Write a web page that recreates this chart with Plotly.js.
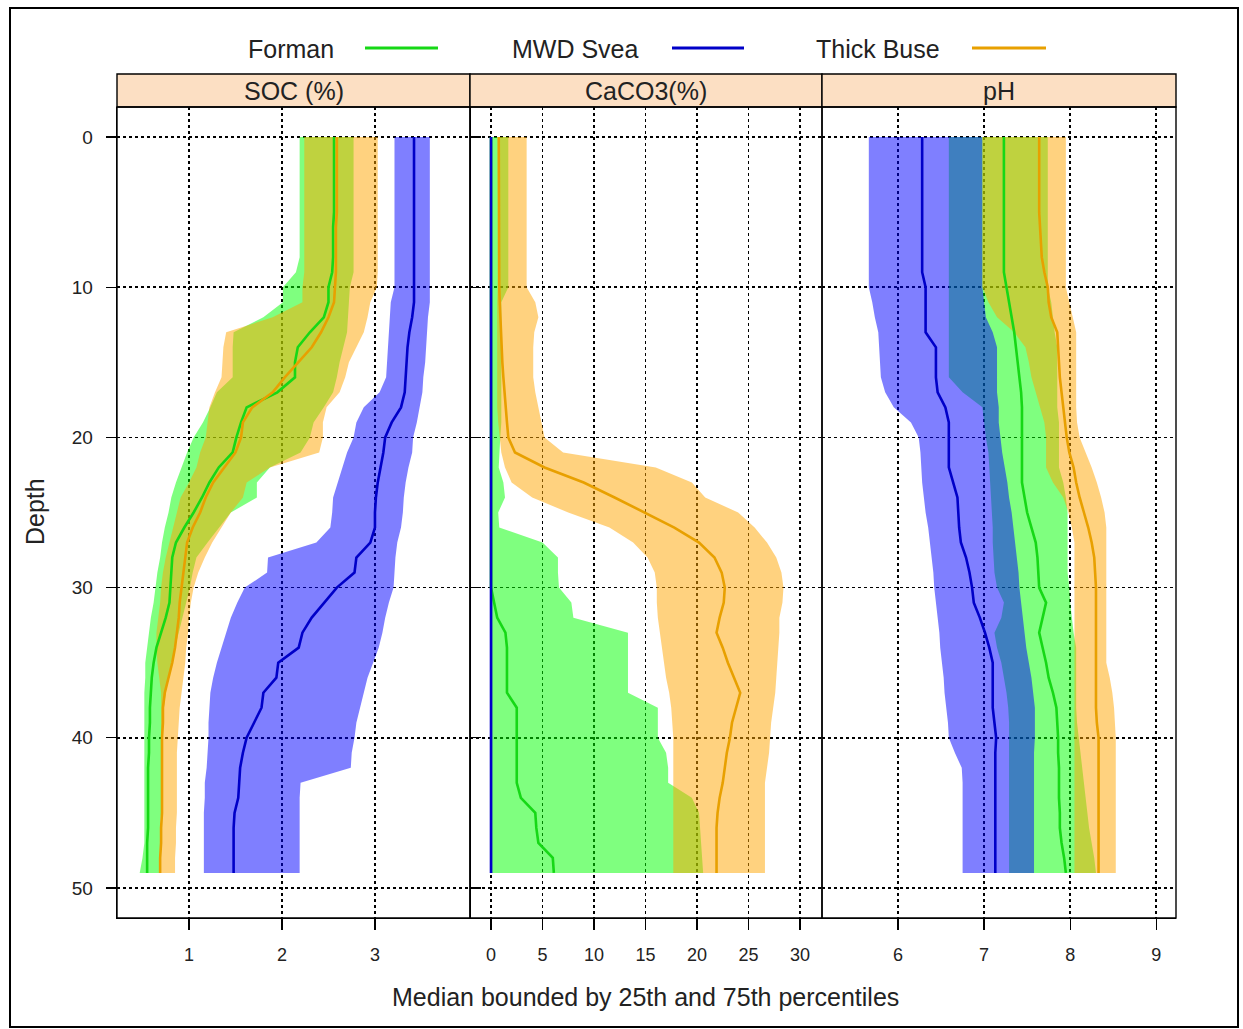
<!DOCTYPE html>
<html>
<head>
<meta charset="utf-8">
<script src="https://cdn.plot.ly/plotly-3.0.1.min.js"></script>
<style>html,body{margin:0;padding:0;background:#fff;}#chart{width:1243px;height:1029px;}</style>
</head>
<body>
<div id="chart"></div>
<script>
// ---------- DATA ----------
const depth = [0,1,2,3,4,5,6,7,8,9,10,11,12,13,14,15,16,17,18,19,20,21,22,23,24,25,26,27,28,29,30,31,32,33,34,35,36,37,38,39,40,41,42,43,44,45,46,47,48,49];
const seriesNames = ["Forman", "MWD Svea", "Thick Buse"];
const panelNames = ["SOC (%)", "CaCO3(%)", "pH"];
const socTicks = [1, 2, 3];
const cacoTicks = [0, 5, 10, 15, 20, 25, 30];
const phTicks = [6, 7, 8, 9];
const depthTicks = [0, 10, 20, 30, 40, 50];

// SOC (%)
const socFormanLow  = [2.19,2.19,2.19,2.19,2.19,2.19,2.19,2.19,2.19,2.15, 2.01,2.01,1.80,1.48,1.47,1.47,1.47,1.30,1.23,1.15, 1.05,0.98,0.92,0.86,0.81,0.78,0.74,0.71,0.69,0.66, 0.64,0.62,0.59,0.57,0.55,0.53,0.53,0.52,0.52,0.52, 0.52,0.52,0.52,0.52,0.52,0.52,0.52,0.52,0.50,0.47];
const socFormanMed  = [2.56,2.56,2.56,2.56,2.56,2.56,2.55,2.55,2.55,2.54, 2.50,2.50,2.45,2.30,2.17,2.14,2.14,1.95,1.62,1.56, 1.51,1.47,1.32,1.22,1.14,1.05,0.95,0.86,0.82,0.81, 0.80,0.79,0.75,0.70,0.65,0.62,0.60,0.59,0.58,0.58, 0.57,0.57,0.56,0.56,0.56,0.56,0.56,0.55,0.55,0.55];
const socFormanHigh = [2.77,2.77,2.77,2.77,2.77,2.77,2.77,2.77,2.77,2.77, 2.73,2.72,2.71,2.70,2.66,2.62,2.59,2.55,2.45,2.34, 2.30,2.20,1.87,1.73,1.73,1.45,1.33,1.20,1.08,1.04, 1.01,0.97,0.93,0.89,0.85,0.81,0.78,0.75,0.73,0.72, 0.71,0.70,0.70,0.70,0.70,0.70,0.69,0.69,0.69,0.69];

const socSveaLow  = [3.21,3.21,3.21,3.21,3.21,3.21,3.21,3.21,3.21,3.21, 3.21,3.17,3.16,3.15,3.14,3.13,3.12,3.05,2.88,2.80, 2.77,2.70,2.65,2.60,2.55,2.54,2.52,2.37,1.85,1.84, 1.60,1.52,1.45,1.40,1.35,1.30,1.26,1.23,1.22,1.21, 1.21,1.20,1.19,1.17,1.17,1.16,1.16,1.16,1.16,1.16];
const socSveaMed  = [3.42,3.42,3.42,3.42,3.42,3.42,3.42,3.42,3.42,3.42, 3.42,3.42,3.40,3.37,3.35,3.34,3.33,3.32,3.28,3.18, 3.11,3.09,3.06,3.03,3.01,3.00,3.00,2.95,2.80,2.78, 2.59,2.45,2.32,2.22,2.18,1.96,1.94,1.80,1.78,1.70, 1.62,1.58,1.55,1.54,1.53,1.49,1.48,1.48,1.48,1.48];
const socSveaHigh = [3.59,3.59,3.59,3.59,3.59,3.59,3.59,3.59,3.59,3.59, 3.59,3.59,3.57,3.56,3.55,3.54,3.52,3.51,3.48,3.45, 3.41,3.40,3.36,3.33,3.31,3.30,3.28,3.24,3.22,3.21, 3.20,3.15,3.11,3.08,3.04,2.98,2.92,2.88,2.84,2.80, 2.78,2.75,2.74,2.20,2.19,2.19,2.19,2.19,2.19,2.19];

const socBuseLow  = [2.24,2.24,2.24,2.24,2.24,2.24,2.24,2.24,2.24,2.24, 2.22,2.22,1.90,1.40,1.37,1.36,1.35,1.28,1.22,1.20, 1.18,1.12,1.08,1.00,0.91,0.87,0.83,0.79,0.75,0.72, 0.70,0.69,0.67,0.65,0.65,0.66,0.68,0.70,0.70,0.70, 0.70,0.70,0.70,0.70,0.70,0.70,0.70,0.70,0.70,0.70];
const socBuseMed  = [2.59,2.59,2.59,2.59,2.59,2.59,2.58,2.58,2.58,2.58, 2.57,2.56,2.50,2.42,2.32,2.17,2.03,1.90,1.68,1.58, 1.56,1.50,1.38,1.26,1.18,1.12,1.04,0.98,0.96,0.94, 0.92,0.90,0.89,0.87,0.85,0.82,0.78,0.74,0.72,0.72, 0.71,0.71,0.71,0.71,0.71,0.71,0.70,0.70,0.69,0.69];
const socBuseHigh = [3.03,3.03,3.03,3.03,3.03,3.03,3.03,3.03,3.03,3.03, 3.02,2.95,2.92,2.88,2.80,2.72,2.68,2.62,2.48,2.44, 2.44,2.40,1.87,1.62,1.58,1.45,1.35,1.25,1.17,1.10, 1.05,1.02,1.00,0.99,0.97,0.96,0.94,0.92,0.90,0.89, 0.88,0.87,0.87,0.87,0.87,0.87,0.86,0.86,0.85,0.85];

// CaCO3 (%)
const cacoFormanLow  = [0,0,0,0,0,0,0,0,0,0, 0,0,0,0,0,0,0,0,0,0, 0,0,0,0,0,0,0,0,0,0, 0,0,0,0,0,0,0,0,0,0, 0,0,0,0,0,0,0,0,0,0];
const cacoFormanMed  = [0,0,0,0,0,0,0,0,0,0, 0,0,0,0,0,0,0,0,0,0, 0,0,0,0,0,0,0,0,0,0, 0,0.3,0.6,1.4,1.55,1.55,1.55,1.55,2.5,2.5, 2.5,2.5,2.5,2.5,2.9,4.3,4.4,4.6,6.0,6.1];
const cacoFormanHigh = [1.68,1.68,1.68,1.68,1.68,1.68,1.68,1.68,1.68,1.68, 1.68,1.0,1.0,1.0,1.0,1.0,1.0,1.0,1.0,1.0, 0.9,0.8,0.75,1.2,1.36,0.7,0.8,5.0,6.5,6.5, 6.6,7.8,8.0,13.3,13.3,13.3,13.3,13.3,16.2,16.2, 16.2,17.0,17.2,17.2,19.5,20.2,20.3,20.4,20.5,20.6];

const cacoSveaLow  = [0,0,0,0,0,0,0,0,0,0, 0,0,0,0,0,0,0,0,0,0, 0,0,0,0,0,0,0,0,0,0, 0,0,0,0,0,0,0,0,0,0, 0,0,0,0,0,0,0,0,0,0];
const cacoSveaMed  = [0,0,0,0,0,0,0,0,0,0, 0,0,0,0,0,0,0,0,0,0, 0,0,0,0,0,0,0,0,0,0, 0,0,0,0,0,0,0,0,0,0, 0,0,0,0,0,0,0,0,0,0];
const cacoSveaHigh = [0.12,0.12,0.12,0.12,0.12,0.12,0.12,0.12,0.12,0.12, 0.12,0.12,0.12,0.12,0.12,0.12,0.12,0.12,0.12,0.12, 0.12,0.12,0.12,0.12,0.12,0.12,0.12,0.12,0.12,0.12, 0.12,0.12,0.12,0.12,0.12,0.12,0.12,0.12,0.12,0.12, 0.12,0.12,0.12,0.12,0.12,0.12,0.12,0.12,0.12,0.12];

const cacoBuseLow  = [0.71,0.71,0.71,0.71,0.71,0.71,0.71,0.71,0.71,0.71, 0.65,0.6,0.6,0.6,0.6,0.6,0.6,0.6,0.6,0.7, 0.85,1.0,1.36,2.0,4.0,7.5,11.5,13.8,15.2,15.9, 16.1,16.1,16.2,16.4,16.6,16.8,17.0,17.3,17.5,17.6, 17.7,17.7,17.7,17.7,17.7,17.7,17.7,17.7,17.7,17.7];
const cacoBuseMed  = [0.75,0.75,0.75,0.75,0.75,0.75,0.75,0.75,0.75,0.75, 0.8,0.85,0.9,1.0,1.05,1.1,1.2,1.3,1.45,1.55, 1.68,2.33,5.2,9.0,12.0,14.95,17.8,20.2,21.7,22.4, 22.7,22.6,22.2,21.9,22.5,23.0,23.6,24.2,23.8,23.4, 23.2,22.9,22.7,22.5,22.2,22.0,21.9,21.9,21.9,21.9];
const cacoBuseHigh = [3.46,3.46,3.46,3.46,3.46,3.46,3.46,3.46,3.46,3.46, 3.46,4.3,4.6,4.2,4.1,4.1,4.1,4.3,4.6,4.9, 5.2,7.0,16.0,19.5,20.8,24.0,25.6,26.8,27.7,28.2, 28.4,28.3,28.0,28.0,27.9,27.8,27.7,27.6,27.4,27.2, 27.1,27.0,26.8,26.6,26.6,26.6,26.6,26.6,26.6,26.6];

// pH
const phFormanLow  = [6.59,6.59,6.59,6.59,6.59,6.59,6.59,6.59,6.59,6.59, 6.59,6.59,6.59,6.59,6.59,6.59,6.59,6.75,6.98,7.00, 7.02,7.05,7.06,7.07,7.08,7.09,7.10,7.10,7.11,7.12, 7.15,7.23,7.20,7.12,7.15,7.20,7.23,7.26,7.28,7.29, 7.29,7.29,7.29,7.29,7.29,7.29,7.29,7.29,7.29,7.29];
const phFormanMed  = [7.23,7.23,7.23,7.23,7.23,7.23,7.23,7.23,7.23,7.23, 7.26,7.29,7.32,7.35,7.37,7.39,7.41,7.43,7.44,7.44, 7.44,7.44,7.44,7.44,7.47,7.50,7.55,7.60,7.62,7.63, 7.64,7.72,7.68,7.64,7.68,7.72,7.75,7.80,7.84,7.85, 7.86,7.86,7.87,7.87,7.87,7.88,7.88,7.90,7.93,7.95];
const phFormanHigh = [7.74,7.74,7.74,7.74,7.74,7.74,7.74,7.74,7.74,7.74, 7.74,7.78,7.80,7.82,7.85,7.85,7.85,7.85,7.85,7.87, 7.87,7.87,7.87,7.92,7.95,7.97,7.97,7.97,7.97,7.97, 7.99,8.00,8.02,8.04,8.07,8.07,8.07,8.07,8.07,8.08, 8.10,8.12,8.14,8.16,8.18,8.20,8.22,8.25,8.28,8.30];

const phSveaLow  = [5.66,5.66,5.66,5.66,5.66,5.66,5.66,5.66,5.66,5.66, 5.66,5.70,5.73,5.77,5.78,5.79,5.80,5.85,5.95,6.15, 6.24,6.26,6.27,6.28,6.30,6.32,6.35,6.37,6.39,6.41, 6.42,6.44,6.46,6.48,6.49,6.51,6.53,6.54,6.56,6.58, 6.59,6.66,6.74,6.75,6.75,6.75,6.75,6.75,6.75,6.75];
const phSveaMed  = [6.28,6.28,6.28,6.28,6.28,6.28,6.28,6.28,6.28,6.28, 6.32,6.32,6.32,6.32,6.44,6.44,6.44,6.46,6.55,6.59, 6.59,6.59,6.59,6.64,6.69,6.70,6.71,6.73,6.79,6.83, 6.86,6.88,6.95,7.01,7.06,7.10,7.10,7.10,7.10,7.12, 7.14,7.13,7.13,7.13,7.13,7.13,7.13,7.13,7.13,7.13];
const phSveaHigh = [6.98,6.98,6.98,6.98,6.98,6.98,6.98,6.98,6.98,6.98, 6.98,7.00,7.02,7.10,7.15,7.15,7.15,7.15,7.17,7.17, 7.19,7.21,7.24,7.27,7.29,7.32,7.34,7.36,7.38,7.40, 7.41,7.43,7.45,7.47,7.49,7.52,7.55,7.57,7.59,7.59, 7.59,7.58,7.58,7.58,7.58,7.58,7.58,7.58,7.58,7.58];

const phBuseLow  = [6.98,6.98,6.98,6.98,6.98,6.98,6.98,6.98,6.98,6.98, 6.98,7.05,7.15,7.35,7.48,7.52,7.55,7.60,7.65,7.70, 7.72,7.72,7.72,7.80,7.92,7.98,8.02,8.05,8.05,8.05, 8.05,8.05,8.05,8.05,8.05,8.05,8.05,8.05,8.05,8.05, 8.05,8.05,8.05,8.05,8.05,8.05,8.05,8.05,8.05,8.05];
const phBuseMed  = [7.64,7.64,7.64,7.64,7.64,7.64,7.65,7.66,7.67,7.70, 7.74,7.75,7.78,7.85,7.86,7.87,7.88,7.90,7.92,7.94, 7.96,7.99,8.04,8.07,8.11,8.16,8.21,8.25,8.28,8.29, 8.30,8.30,8.30,8.30,8.30,8.30,8.30,8.30,8.30,8.31, 8.33,8.33,8.33,8.33,8.33,8.33,8.33,8.33,8.33,8.33];
const phBuseHigh = [7.95,7.95,7.95,7.95,7.95,7.95,7.95,7.95,7.95,7.95, 7.95,7.99,8.03,8.07,8.07,8.07,8.07,8.07,8.07,8.08, 8.11,8.18,8.25,8.31,8.36,8.40,8.42,8.42,8.42,8.42, 8.42,8.42,8.42,8.42,8.42,8.42,8.46,8.49,8.51,8.52, 8.53,8.53,8.53,8.53,8.53,8.53,8.53,8.53,8.53,8.53];

// ---------- STYLE ----------
const lineColors = ["#16d816", "#0000c8", "#e8a000"];
const bandColors = ["rgba(0,255,0,0.5)", "rgba(0,0,255,0.5)", "rgba(255,165,0,0.5)"];
const FONT = "Liberation Sans, Arial, sans-serif";
const TXT = 25;

const panels = [
  {axis: "x",  series: [[socFormanLow, socFormanMed, socFormanHigh], [socSveaLow, socSveaMed, socSveaHigh], [socBuseLow, socBuseMed, socBuseHigh]]},
  {axis: "x2", series: [[cacoFormanLow, cacoFormanMed, cacoFormanHigh], [cacoSveaLow, cacoSveaMed, cacoSveaHigh], [cacoBuseLow, cacoBuseMed, cacoBuseHigh]]},
  {axis: "x3", series: [[phFormanLow, phFormanMed, phFormanHigh], [phSveaLow, phSveaMed, phSveaHigh], [phBuseLow, phBuseMed, phBuseHigh]]}
];

const traces = [];
const revDepth = depth.slice().reverse();
panels.forEach(p => {
  p.series.forEach((s, i) => {
    traces.push({
      type: "scatter", mode: "lines", xaxis: p.axis, yaxis: "y",
      x: s[0].concat(s[2].slice().reverse()), y: depth.concat(revDepth),
      fill: "toself", fillcolor: bandColors[i], line: {width: 0, color: bandColors[i]},
      hoverinfo: "skip", showlegend: false, name: seriesNames[i]
    });
  });
});
panels.forEach(p => {
  p.series.forEach((s, i) => {
    traces.push({
      type: "scatter", mode: "lines", xaxis: p.axis, yaxis: "y",
      x: s[1], y: depth, line: {width: 2.6, color: lineColors[i]},
      showlegend: false, name: seriesNames[i]
    });
  });
});

// ---------- LAYOUT ----------
const L = 117, R = 1176, T = 74, B = 918, W = 1243, H = 1029;
const px = v => (v - L) / (R - L);
const py = v => (B - v) / (B - T);
const stripBottom = py(107);
const d1 = px(470), d2 = px(822);

const xBase = {
  showgrid: true, gridcolor: "#000", griddash: "dot", gridwidth: 1.6,
  zeroline: false, showline: true, linecolor: "#000", linewidth: 1.3,
  ticks: "outside", ticklen: 11, tickwidth: 1.3, tickcolor: "#000",
  ticklabelstandoff: 9,
  tickfont: {family: FONT, size: 18, color: "#222"}, anchor: "y", fixedrange: true
};

const layout = {
  width: W, height: H,
  margin: {l: L, r: W - R, t: T, b: H - B, pad: 0},
  paper_bgcolor: "#fff", plot_bgcolor: "#fff",
  showlegend: false,
  xaxis:  Object.assign({}, xBase, {domain: [0, d1],  range: [0.226, 4.022], tickvals: socTicks}),
  xaxis2: Object.assign({}, xBase, {domain: [d1, d2], range: [-2.04, 32.14], tickvals: cacoTicks}),
  xaxis3: Object.assign({}, xBase, {domain: [d2, 1],  range: [5.116, 9.23], tickvals: phTicks}),
  yaxis: {
    domain: [0, stripBottom], range: [52, -2], tickvals: depthTicks,
    showgrid: true, gridcolor: "#000", griddash: "dot", gridwidth: 1.6,
    zeroline: false, showline: true, linecolor: "#000", linewidth: 1.3, mirror: "ticks",
    ticks: "outside", ticklen: 10, tickwidth: 1.3, tickcolor: "#000",
    ticklabelstandoff: 9,
    tickfont: {family: FONT, size: 19, color: "#222"}, fixedrange: true
  },
  shapes: [],
  annotations: []
};

// panel boxes and strips
const edges = [[0, d1], [d1, d2], [d2, 1]];
edges.forEach((e, k) => {
  layout.shapes.push({type: "rect", xref: "paper", yref: "paper", x0: e[0], x1: e[1], y0: 0, y1: stripBottom,
    line: {color: "#000", width: 1.4}, fillcolor: "rgba(0,0,0,0)", layer: "above"});
  layout.shapes.push({type: "rect", xref: "paper", yref: "paper", x0: e[0], x1: e[1], y0: stripBottom, y1: 1,
    line: {color: "#000", width: 1.4}, fillcolor: "#fcdfc3", layer: "below"});
  layout.annotations.push({xref: "paper", yref: "paper", x: (e[0] + e[1]) / 2, y: (stripBottom + 1) / 2,
    text: panelNames[k], showarrow: false, xanchor: "center", yanchor: "middle",
    font: {family: FONT, size: TXT, color: "#222"}});
});

// outer frame
layout.shapes.push({type: "rect", xref: "paper", yref: "paper", x0: px(10), x1: px(1238), y0: py(1027), y1: py(8),
  line: {color: "#000", width: 2}, fillcolor: "rgba(0,0,0,0)", layer: "above"});

// key (text followed by line sample)
const keyText = [291, 575, 878];
const keyLine = [[365, 438], [672, 744], [972, 1046]];
seriesNames.forEach((n, i) => {
  layout.annotations.push({xref: "paper", yref: "paper", x: px(keyText[i]), y: py(49), text: n, showarrow: false,
    xanchor: "center", yanchor: "middle", font: {family: FONT, size: TXT, color: "#222"}});
  layout.shapes.push({type: "line", xref: "paper", yref: "paper", x0: px(keyLine[i][0]), x1: px(keyLine[i][1]),
    y0: py(48), y1: py(48), line: {color: lineColors[i], width: 3}});
});

// axis titles
layout.annotations.push({xref: "paper", yref: "paper", x: px(645), y: py(997), text: "Median bounded by 25th and 75th percentiles",
  showarrow: false, xanchor: "center", yanchor: "middle", font: {family: FONT, size: TXT, color: "#222"}});
layout.annotations.push({xref: "paper", yref: "paper", x: px(35), y: py(512), text: "Depth", textangle: -90,
  showarrow: false, xanchor: "center", yanchor: "middle", font: {family: FONT, size: TXT, color: "#222"}});

Plotly.newPlot("chart", traces, layout, {displayModeBar: false, staticPlot: true});
</script>
</body>
</html>
